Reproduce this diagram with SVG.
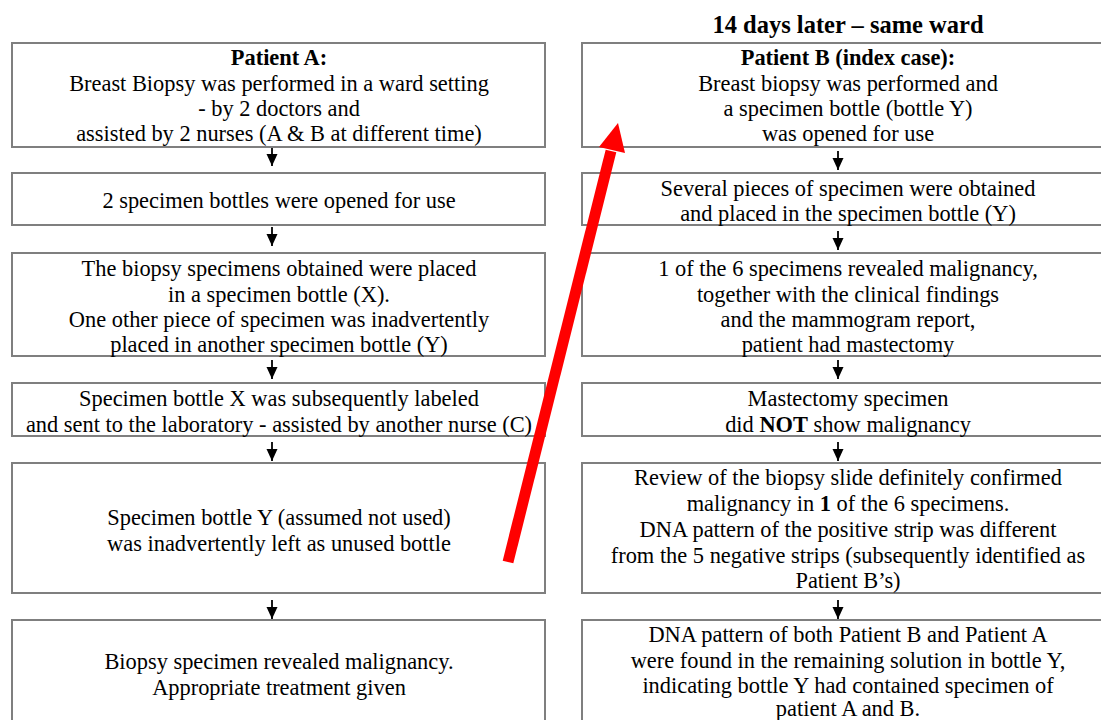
<svg xmlns="http://www.w3.org/2000/svg" width="1101" height="720" viewBox="0 0 1101 720">
<style>
.box{fill:#fff;stroke:#7f7f7f;stroke-width:2}
.t{font-family:"Liberation Serif","Times New Roman",serif;font-size:22.4px;fill:#000;text-anchor:middle}
.b{font-weight:bold}
.ar{stroke:#000;stroke-width:1.8;fill:none}
</style>
<defs>
<marker id="ah" markerWidth="12" markerHeight="12" refX="12" refY="6" orient="auto" markerUnits="userSpaceOnUse" viewBox="0 0 12 12">
<path d="M0,0.5 L12,6 L0,11.5 Z" fill="#000"/>
</marker>
</defs>
<rect width="1101" height="720" fill="#fff"/>
<text class="t b" x="848" y="33" style="font-size:24.5px">14 days later – same ward</text>

<g id="a1"><rect class="box" x="12" y="43" width="533" height="104"/>
<text class="t b" x="279" y="65">Patient A:</text>
<text class="t" x="279" y="91">Breast Biopsy was performed in a ward setting</text>
<text class="t" x="279" y="116">- by 2 doctors and</text>
<text class="t" x="279" y="141">assisted by 2 nurses (A &amp; B at different time)</text></g>

<g id="a2"><rect class="box" x="12" y="173" width="533" height="52"/>
<text class="t" x="279" y="208">2 specimen bottles were opened for use</text></g>

<g id="a3"><rect class="box" x="12" y="253" width="533" height="103"/>
<text class="t" x="279" y="276">The biopsy specimens obtained were placed</text>
<text class="t" x="279" y="302">in a specimen bottle (X).</text>
<text class="t" x="279" y="327">One other piece of specimen was inadvertently</text>
<text class="t" x="279" y="352">placed in another specimen bottle (Y)</text></g>

<g id="a4"><rect class="box" x="12" y="383" width="533" height="53"/>
<text class="t" x="279" y="406">Specimen bottle X was subsequently labeled</text>
<text class="t" x="279" y="432">and sent to the laboratory - assisted by another nurse (C)</text></g>

<g id="a5"><rect class="box" x="12" y="463" width="533" height="130"/>
<text class="t" x="279" y="525">Specimen bottle Y (assumed not used)</text>
<text class="t" x="279" y="551">was inadvertently left as unused bottle</text></g>

<g id="a6"><rect class="box" x="12" y="620" width="533" height="110"/>
<text class="t" x="279" y="669">Biopsy specimen revealed malignancy.</text>
<text class="t" x="279" y="695">Appropriate treatment given</text></g>

<g id="b1"><rect class="box" x="582" y="43" width="532" height="104"/>
<text class="t b" x="848" y="65">Patient B (index case):</text>
<text class="t" x="848" y="91">Breast biopsy was performed and</text>
<text class="t" x="848" y="116">a specimen bottle (bottle Y)</text>
<text class="t" x="848" y="141">was opened for use</text></g>

<g id="b2"><rect class="box" x="582" y="173" width="532" height="52"/>
<text class="t" x="848" y="196">Several pieces of specimen were obtained</text>
<text class="t" x="848" y="221">and placed in the specimen bottle (Y)</text></g>

<g id="b3"><rect class="box" x="582" y="253" width="532" height="103"/>
<text class="t" x="848" y="276">1 of the 6 specimens revealed malignancy,</text>
<text class="t" x="848" y="302">together with the clinical findings</text>
<text class="t" x="848" y="327">and the mammogram report,</text>
<text class="t" x="848" y="352">patient had mastectomy</text></g>

<g id="b4"><rect class="box" x="582" y="383" width="532" height="53"/>
<text class="t" x="848" y="406">Mastectomy specimen</text>
<text class="t" x="848" y="432">did <tspan class="b">NOT</tspan> show malignancy</text></g>

<g id="b5"><rect class="box" x="582" y="463" width="532" height="130"/>
<text class="t" x="848" y="485">Review of the biopsy slide definitely confirmed</text>
<text class="t" x="848" y="511">malignancy in <tspan class="b">1</tspan> of the 6 specimens.</text>
<text class="t" x="848" y="537">DNA pattern of the positive strip was different</text>
<text class="t" x="848" y="563">from the 5 negative strips (subsequently identified as</text>
<text class="t" x="848" y="588">Patient B’s)</text></g>

<g id="b6"><rect class="box" x="582" y="620" width="532" height="110"/>
<text class="t" x="848" y="642">DNA pattern of both Patient B and Patient A</text>
<text class="t" x="848" y="668">were found in the remaining solution in bottle Y,</text>
<text class="t" x="848" y="693">indicating bottle Y had contained specimen of</text>
<text class="t" x="848" y="716">patient A and B.</text></g>

<g id="connectors">
<path class="ar" marker-end="url(#ah)" d="M272,148 V166"/>
<path class="ar" marker-end="url(#ah)" d="M272,227 V246"/>
<path class="ar" marker-end="url(#ah)" d="M272,360 V379"/>
<path class="ar" marker-end="url(#ah)" d="M272,442 V461"/>
<path class="ar" marker-end="url(#ah)" d="M272,600 V619"/>
<path class="ar" marker-end="url(#ah)" d="M838,151 V170"/>
<path class="ar" marker-end="url(#ah)" d="M838,231 V250"/>
<path class="ar" marker-end="url(#ah)" d="M838,360 V379"/>
<path class="ar" marker-end="url(#ah)" d="M838,442 V461"/>
<path class="ar" marker-end="url(#ah)" d="M838,600 V619"/>
<path d="M508,562 L611,151" stroke="#ff0000" stroke-width="11" fill="none"/>
<polygon points="618,123 599,147 625,153" fill="#ff0000"/>
</g>
</svg>
